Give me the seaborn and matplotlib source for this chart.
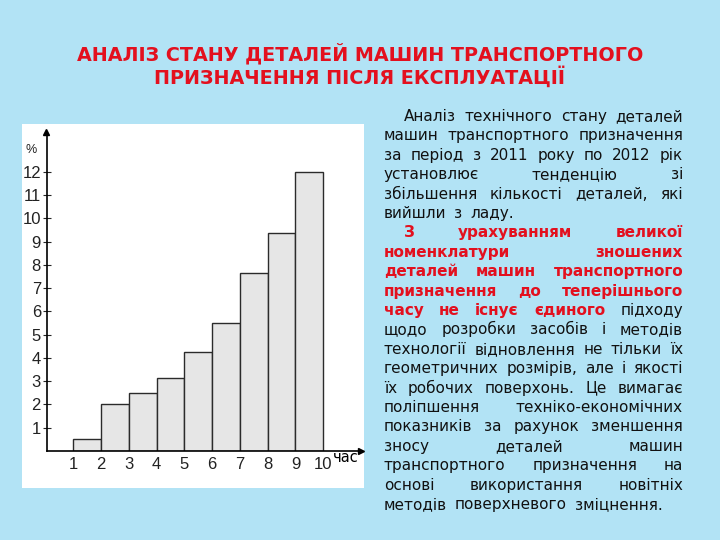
import numpy as np
import matplotlib
matplotlib.use("Agg")
import matplotlib.pyplot as plt
import seaborn as sns

# data
bin_edges = [1, 2, 3, 4, 5, 6, 7, 8, 9, 10]
bin_left = [1, 2, 3, 4, 5, 6, 7, 8, 9]
pct = [0.5, 2.0, 2.5, 3.13, 4.25, 5.5, 7.65, 9.37, 12.0]
x_ticks = [1, 2, 3, 4, 5, 6, 7, 8, 9, 10]
y_ticks = [1, 2, 3, 4, 5, 6, 7, 8, 9, 10, 11, 12]

title_lines = ["АНАЛІЗ СТАНУ ДЕТАЛЕЙ МАШИН ТРАНСПОРТНОГО",
               "ПРИЗНАЧЕННЯ ПІСЛЯ ЕКСПЛУАТАЦІЇ"]

# (line text, number of leading red bold words, -1 = all)
body_lines = [
    ("Аналіз технічного стану деталей", 0),
    ("машин транспортного призначення", 0),
    ("за період з 2011 року по 2012 рік", 0),
    ("установлює тенденцію зі", 0),
    ("збільшення кількості деталей, які", 0),
    ("вийшли з ладу.", 0),
    ("З урахуванням великої", -1),
    ("номенклатури зношених", -1),
    ("деталей машин транспортного", -1),
    ("призначення до теперішнього", -1),
    ("часу не існує єдиного підходу", 4),
    ("щодо розробки засобів і методів", 0),
    ("технології відновлення не тільки їх", 0),
    ("геометричних розмірів, але і якості", 0),
    ("їх робочих поверхонь. Це вимагає", 0),
    ("поліпшення техніко-економічних", 0),
    ("показників за рахунок зменшення", 0),
    ("зносу деталей машин", 0),
    ("транспортного призначення на", 0),
    ("основі використання новітніх", 0),
    ("методів поверхневого зміцнення.", 0),
]
para_first = [0, 6]
para_last = [5, 20]

BG = "#b2e3f5"
RED = "#e3101e"
W, H = 720, 540

sns.set_theme(style="white")
plt.rcParams["font.family"] = ["DejaVu Sans"]
SANS = ["DejaVu Sans"]
NARROW = ["Liberation Sans Narrow", "Liberation Sans", "DejaVu Sans"]

fig = plt.figure(figsize=(7.2, 5.4), dpi=100, facecolor=BG)


def fx(x):
    return x / W


def fy(y):
    return 1 - y / H


# title
for i, line in enumerate(title_lines):
    fig.text(0.5, fy(54 + 23 * i), line, ha="center", va="center",
             color=RED, fontsize=13.8, fontweight="bold", family=SANS)

# white picture panel
panel = fig.add_axes([fx(22), fy(488), fx(364) - fx(22), (488 - 124) / H], zorder=-1)
panel.set_facecolor("white")
panel.set_xticks([])
panel.set_yticks([])
for s in panel.spines.values():
    s.set_visible(False)

# histogram
ax = fig.add_axes([fx(46.5), fy(451), fx(361) - fx(46.5), (451 - 132) / H])
ax.set_facecolor("none")
sns.histplot(x=bin_left, weights=pct, bins=bin_edges, ax=ax,
             color="#e6e6e6", edgecolor="#2b2b2b", linewidth=1.0, alpha=1)
ax.set_xlim(0.035, 11.36)
ax.set_ylim(0, 13.72)
ax.set_xticks(x_ticks)
ax.set_yticks(y_ticks)
ax.set_xlabel("")
ax.set_ylabel("")
for s in ["top", "right"]:
    ax.spines[s].set_visible(False)
for s in ["left", "bottom"]:
    ax.spines[s].set_color("black")
    ax.spines[s].set_linewidth(1.2)
ax.tick_params(axis="y", direction="inout", length=6, width=0.8, pad=1,
               labelsize=12, labelcolor="#222222", left=True)
ax.tick_params(axis="x", direction="out", length=0, pad=4,
               labelsize=12, labelcolor="#222222", bottom=True)
for lab in ax.get_xticklabels() + ax.get_yticklabels():
    lab.set_family(NARROW)
ax.plot(1, 0, ">", color="black", ms=4, transform=ax.get_yaxis_transform(), clip_on=False)
ax.plot(0, 1, "^", color="black", ms=4, transform=ax.get_xaxis_transform(), clip_on=False)

fig.text(fx(31.5), fy(150), "%", ha="center", va="center", fontsize=9,
         color="#222222", family=NARROW)
fig.text(fx(333), fy(462), "час", ha="left", va="baseline", fontsize=10.5,
         color="black", family=SANS)

# justified body text
renderer = fig.canvas.get_renderer()
left, right = 384, 683
size = 11
probe = fig.text(0, 0, "x x", fontsize=size, family=SANS)
probe2 = fig.text(0, 0, "xx", fontsize=size, family=SANS)
space = probe.get_window_extent(renderer).width - probe2.get_window_extent(renderer).width
probe.remove()
probe2.remove()

for i, (line, n_red) in enumerate(body_lines):
    words = line.split()
    base = 121 + 19.4 * i
    x0 = 404 if i in para_first else left
    arts = []
    for j, w in enumerate(words):
        red = n_red == -1 or j < n_red
        t = fig.text(0, fy(base), w, va="baseline", ha="left", fontsize=size,
                     color=RED if red else "#111111", family=SANS,
                     fontweight="bold" if red else "normal")
        arts.append(t)
    widths = [t.get_window_extent(renderer).width for t in arts]
    if i in para_last or len(words) == 1:
        gap = space * 1.6
    else:
        gap = (right - x0 - sum(widths)) / (len(words) - 1)
    x = x0
    for t, wd in zip(arts, widths):
        t.set_x(fx(x))
        x += wd + gap

fig.savefig("out.png", dpi=100, facecolor=BG)
